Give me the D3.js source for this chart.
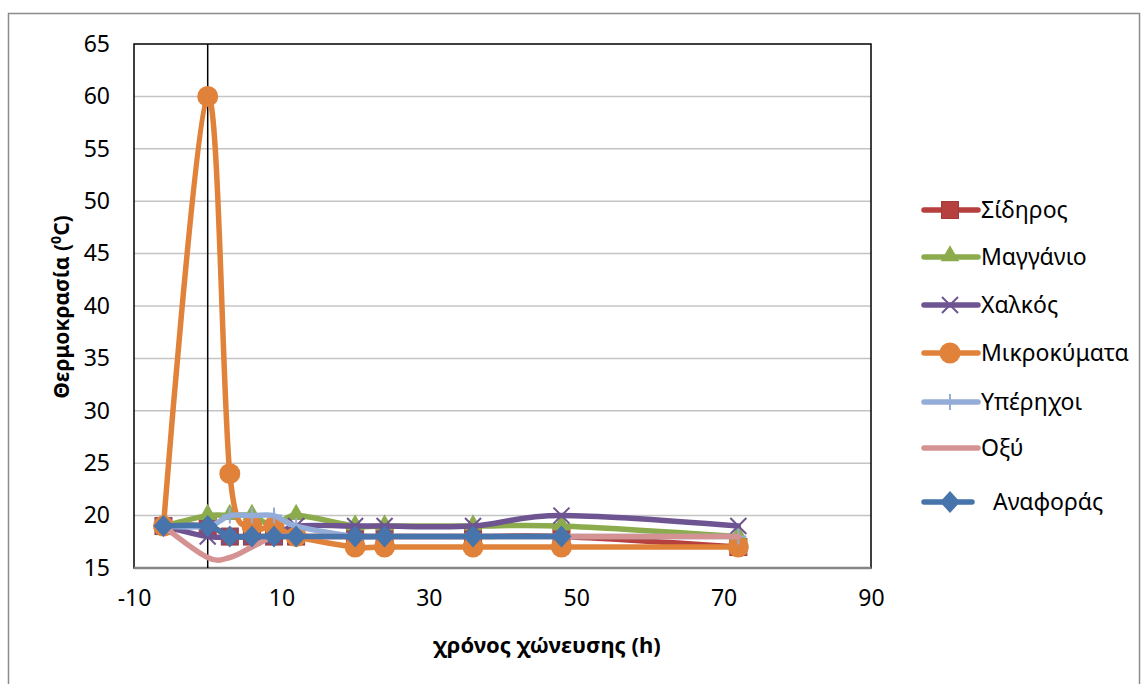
<!DOCTYPE html>
<html>
<head>
<meta charset="utf-8">
<script src="https://cdn.jsdelivr.net/npm/d3@7"></script>
<style>
  body { margin: 0; background: #fff; }
  svg { font-family: "Noto Sans", sans-serif; }
</style>
</head>
<body>
<div id="chart"></div>
<script>
const hours = [-6, 0, 3, 6, 9, 12, 20, 24, 36, 48, 72];
const sidiros = [19, 19, 18, 18, 18, 18, 18, 18, 18, 18, 17];
const manganio = [19, 20, 20, 20, 19, 20, 19, 19, 19, 19, 18];
const chalkos = [19, 18, 18, 18, 18, 19, 19, 19, 19, 20, 19];
const mikrokymata = [19, 60, 24, 19, 19, 18, 17, 17, 17, 17, 17];
const yperichoi = [19, 19, 20, 20, 20, 19, 18, 18, 18, 18, 18];
const oxy = [19, 16, 16, 17, 18, 18, 18, 18, 18, 18, 18];
const anaforas = [19, 19, 18, 18, 18, 18, 18, 18, 18, 18, null];
const xTicks = [-10, 10, 30, 50, 70, 90];
const yTicks = [15, 20, 25, 30, 35, 40, 45, 50, 55, 60, 65];

const series = [
  {name: "Σίδηρος", values: sidiros, color: "#b5403e", marker: "square"},
  {name: "Μαγγάνιο", values: manganio, color: "#8cab4c", marker: "triangle"},
  {name: "Χαλκός", values: chalkos, color: "#6e5491", marker: "x"},
  {name: "Μικροκύματα", values: mikrokymata, color: "#e0823a", marker: "circle"},
  {name: "Υπέρηχοι", values: yperichoi, color: "#93acd8", marker: "plus"},
  {name: "Οξύ", values: oxy, color: "#d49392", marker: "none"},
  {name: "  Αναφοράς", values: anaforas, color: "#4674ab", marker: "diamond"}
];

const W = 1148, H = 684;
const margin = {top: 44, right: 277, bottom: 116, left: 134};
const width = W - margin.left - margin.right;
const height = H - margin.top - margin.bottom;

const root = d3.select("#chart").append("svg")
  .attr("width", W)
  .attr("height", H);

// chart border
root.append("rect")
  .attr("x", 8.5).attr("y", 13.5)
  .attr("width", 1131).attr("height", 680)
  .attr("fill", "none")
  .attr("stroke", "#8c8c8c")
  .attr("stroke-width", 1.5);

const svg = root.append("g")
  .attr("transform", "translate(" + margin.left + "," + margin.top + ")");

const x = d3.scaleLinear().domain([-10, 90]).range([0, width]);
const y = d3.scaleLinear().domain([15, 65]).range([height, 0]);

// gridlines
svg.append("g")
  .selectAll("line")
  .data(yTicks.filter(d => d > 15 && d < 65))
  .enter()
  .append("line")
  .attr("x1", 0).attr("x2", width)
  .attr("y1", d => y(d)).attr("y2", d => y(d))
  .attr("stroke", "#c4c4c4")
  .attr("stroke-width", 1.5);

// plot border
svg.append("rect")
  .attr("width", width).attr("height", height)
  .attr("fill", "none")
  .attr("stroke", "#000")
  .attr("stroke-width", 1.5);

svg.append("line")
  .attr("x1", 0).attr("x2", width)
  .attr("y1", height).attr("y2", height)
  .attr("stroke", "#868686")
  .attr("stroke-width", 2.5);

// vertical axis crosses at 0
svg.append("line")
  .attr("x1", x(0)).attr("x2", x(0))
  .attr("y1", 0).attr("y2", height)
  .attr("stroke", "#000")
  .attr("stroke-width", 1.5);

// tick labels
const yAxis = svg.append("g")
  .call(d3.axisLeft(y).tickValues(yTicks).tickFormat(d => String(d)).tickSize(0).tickPadding(24));
yAxis.select(".domain").remove();
yAxis.selectAll("text")
  .attr("font-family", "Noto Sans")
  .attr("font-size", 23)
  .attr("fill", "#000");

const xAxis = svg.append("g")
  .attr("transform", "translate(0," + height + ")")
  .call(d3.axisBottom(x).tickValues(xTicks).tickFormat(d => String(d)).tickSize(0).tickPadding(22));
xAxis.select(".domain").remove();
xAxis.selectAll("text")
  .attr("font-family", "Noto Sans")
  .attr("font-size", 23)
  .attr("fill", "#000");

// axis titles
root.append("text")
  .attr("x", 547).attr("y", 653)
  .attr("text-anchor", "middle")
  .attr("font-weight", "bold")
  .attr("font-size", 22)
  .text("χρόνος χώνευσης (h)");

const yt = root.append("text")
  .attr("transform", "translate(69,307) rotate(-90)")
  .attr("text-anchor", "middle")
  .attr("font-weight", "bold")
  .attr("font-size", 21);
yt.append("tspan").text("Θερμοκρασία (");
yt.append("tspan").attr("font-size", 14).attr("dy", -8).text("0");
yt.append("tspan").attr("dy", 8).text("C)");

const line = d3.line()
  .defined(d => d.v != null)
  .x(d => x(d.h))
  .y(d => y(d.v))
  .curve(d3.curveCardinal.tension(0));

function drawMarker(g, type, color) {
  if (type === "square") {
    g.append("rect").attr("x", -8.5).attr("y", -8.5).attr("width", 17).attr("height", 17)
      .attr("fill", color).attr("stroke", "#a33a38").attr("stroke-width", 1);
  } else if (type === "triangle") {
    g.append("path").attr("d", d3.symbol(d3.symbolTriangle, 150)())
      .attr("transform", "translate(0,-1)")
      .attr("fill", color);
  } else if (type === "x") {
    g.append("path").attr("d", "M-8,-8L8,8M-8,8L8,-8")
      .attr("stroke", color).attr("stroke-width", 2).attr("fill", "none");
  } else if (type === "circle") {
    g.append("circle").attr("r", 10.5).attr("fill", color);
  } else if (type === "plus") {
    g.append("path").attr("d", "M-8,0L8,0M0,-8L0,8")
      .attr("stroke", color).attr("stroke-width", 2).attr("fill", "none");
  } else if (type === "diamond") {
    g.append("path").attr("d", "M0,-11L10,0L0,11L-10,0Z")
      .attr("fill", color);
  }
}

series.forEach(s => {
  const pts = hours.map((h, i) => ({h: h, v: s.values[i]}));
  const g = svg.append("g");
  g.append("path")
    .attr("d", line(pts))
    .attr("fill", "none")
    .attr("stroke", s.color)
    .attr("stroke-width", 5.5)
    .attr("stroke-linejoin", "round")
    .attr("stroke-linecap", "round");
  g.selectAll("g.m")
    .data(pts.filter(p => p.v != null))
    .enter()
    .append("g")
    .attr("class", "m")
    .attr("transform", p => "translate(" + x(p.h) + "," + y(p.v) + ")")
    .each(function() { drawMarker(d3.select(this), s.marker, s.color); });
});

// legend
const legendY = [210, 257, 305, 353, 402, 448, 502];
const legend = root.append("g");
series.forEach((s, i) => {
  const g = legend.append("g").attr("transform", "translate(0," + legendY[i] + ")");
  const x2 = s.marker === "diamond" ? 972 : 978;
  g.append("line")
    .attr("x1", 924).attr("x2", x2)
    .attr("stroke", s.color)
    .attr("stroke-width", 5.5)
    .attr("stroke-linecap", "round");
  const m = g.append("g").attr("transform", "translate(950,0)");
  drawMarker(m, s.marker, s.color);
  g.append("text")
    .attr("x", 981)
    .attr("y", 8)
    .attr("font-size", 23)
    .attr("xml:space", "preserve")
    .style("white-space", "pre")
    .text(s.name);
});
</script>
</body>
</html>
